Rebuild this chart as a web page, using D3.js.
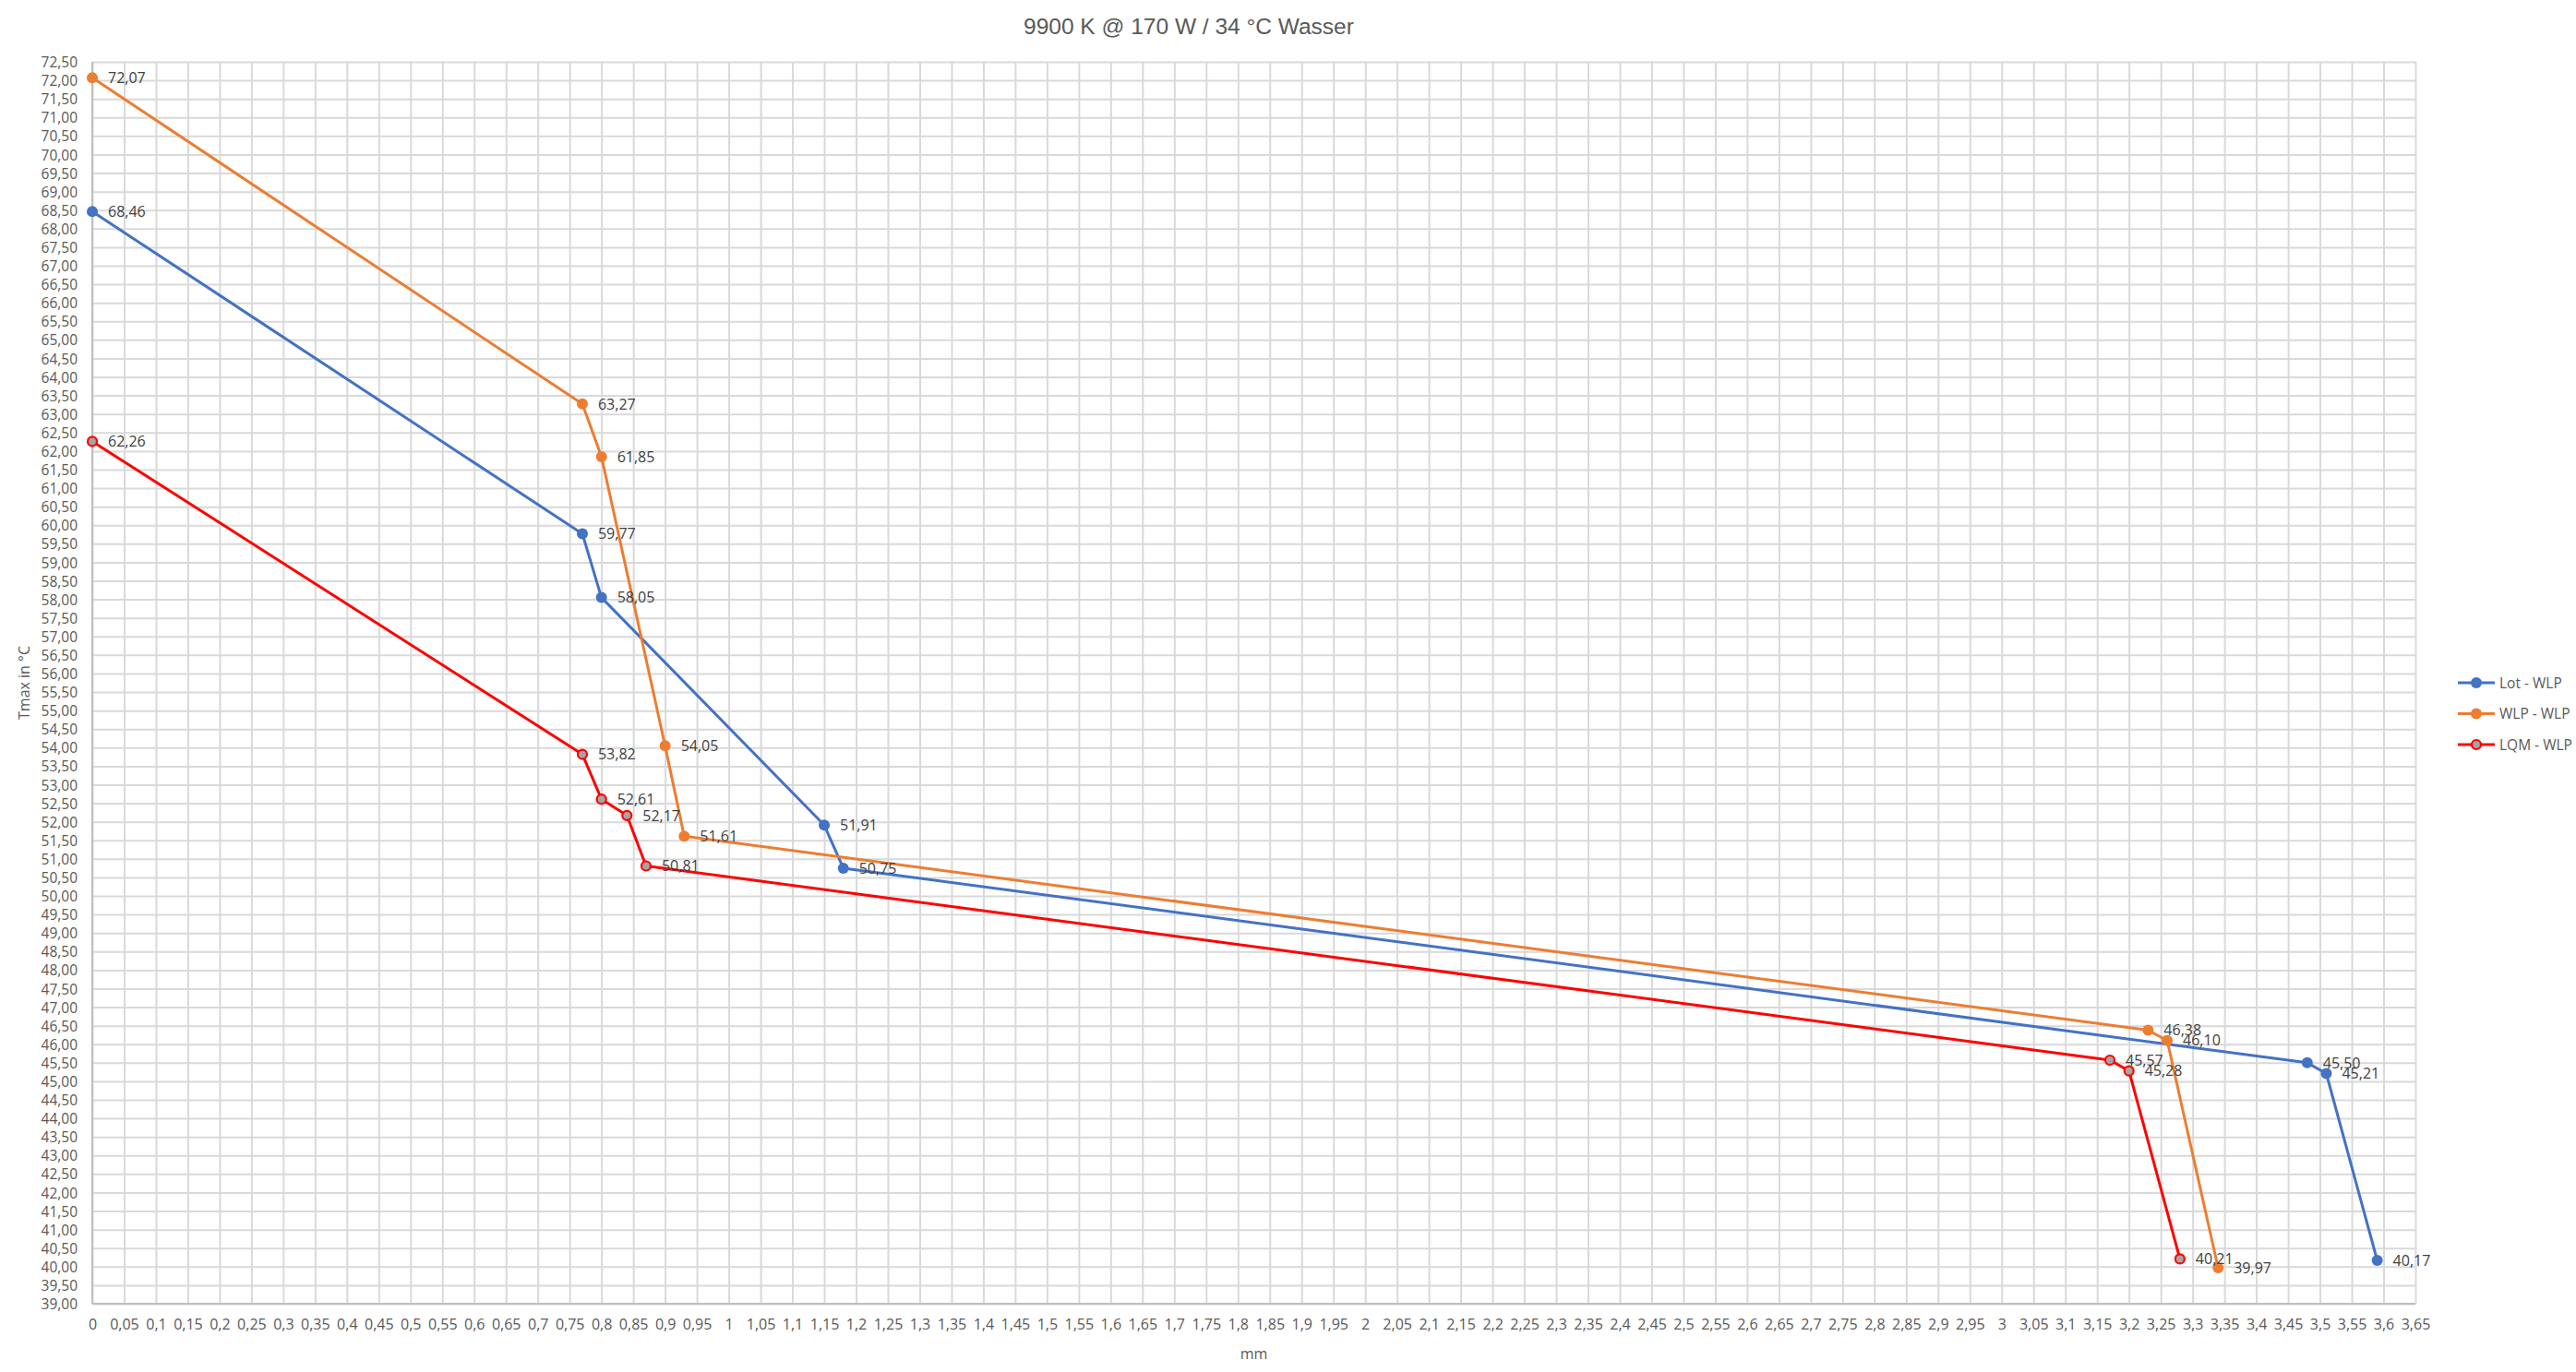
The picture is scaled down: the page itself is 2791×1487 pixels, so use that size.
<!DOCTYPE html>
<html>
<head>
<meta charset="utf-8">
<script src="https://cdnjs.cloudflare.com/ajax/libs/d3/7.8.5/d3.min.js"></script>
<style>
  body { margin: 0; background: #fff; }
  svg { display: block; }
  text { font-family: "Open Sans", "Noto Sans", sans-serif; }
</style>
</head>
<body>
<div id="chart"></div>
<script>

// data
var series_names = ["Lot - WLP", "WLP - WLP", "LQM - WLP"]
var lot_x = [0, 0.77, 0.80, 1.15, 1.18, 3.48, 3.51, 3.59]
var lot_y = [68.46, 59.77, 58.05, 51.91, 50.75, 45.50, 45.21, 40.17]
var wlp_x = [0, 0.77, 0.80, 0.90, 0.93, 3.23, 3.26, 3.34]
var wlp_y = [72.07, 63.27, 61.85, 54.05, 51.61, 46.38, 46.10, 39.97]
var lqm_x = [0, 0.77, 0.80, 0.84, 0.87, 3.17, 3.20, 3.28]
var lqm_y = [62.26, 53.82, 52.61, 52.17, 50.81, 45.57, 45.28, 40.21]

var x_min = 0, x_max = 3.65, x_step = 0.05
var y_min = 39, y_max = 72.5, y_step = 0.5

var title = "9900 K @ 170 W / 34 °C Wasser"
var x_title = "mm"
var y_title = "Tmax in °C"

var w = 2791
var h = 1487
// note: "top" is taken by window.top, so prefix everything
var p_left = 100, p_right = 2617, p_top = 67, p_bottom = 1413

var colors = ["#4472C4", "#ED7D31", "#FF0000"]

var comma = function(s) { return s.replace(".", ",") }
var fmt_x = function(v) { return comma(String(+v.toFixed(2))) }
var fmt_y = function(v) { return comma(v.toFixed(2)) }

var data = [
  {name: series_names[0], pts: lot_x.map(function(x, i){ return {x: x, y: lot_y[i]} })},
  {name: series_names[1], pts: wlp_x.map(function(x, i){ return {x: x, y: wlp_y[i]} })},
  {name: series_names[2], pts: lqm_x.map(function(x, i){ return {x: x, y: lqm_y[i]} })}
]

var x = d3.scaleLinear().domain([x_min, x_max]).range([p_left, p_right])
var y = d3.scaleLinear().domain([y_min, y_max]).range([p_bottom, p_top])

var x_ticks = d3.range(0, Math.round((x_max - x_min) / x_step) + 1).map(function(i){ return +(x_min + i * x_step).toFixed(2) })
var y_ticks = d3.range(0, Math.round((y_max - y_min) / y_step) + 1).map(function(i){ return y_min + i * y_step })

var svg = d3.select("#chart").append("svg")
  .attr("width", w)
  .attr("height", h)

svg.append("rect").attr("width", w).attr("height", h).attr("fill", "#fff")

// gridlines + tick labels
var gx = svg.append("g")
  .attr("transform", "translate(0," + p_bottom + ")")
  .call(d3.axisBottom(x).tickValues(x_ticks).tickFormat(fmt_x).tickSize(-(p_bottom - p_top)).tickPadding(17))
var gy = svg.append("g")
  .attr("transform", "translate(" + p_left + ",0)")
  .call(d3.axisLeft(y).tickValues(y_ticks).tickFormat(fmt_y).tickSize(-(p_right - p_left)).tickPadding(16))

;[gx, gy].forEach(function(g){
  g.select(".domain").remove()
  g.selectAll(".tick line").attr("stroke", "#D9D9D9").attr("stroke-width", 2)
  g.selectAll(".tick text")
    .attr("fill", "#595959")
    .style("font-family", "'Open Sans', sans-serif")
})
gx.selectAll(".tick text").style("font-size", "16px")
gy.selectAll(".tick text").style("font-size", "15.5px").attr("dy", "0.36em")

// axis lines
svg.append("line")
  .attr("x1", p_left).attr("x2", p_left).attr("y1", p_top).attr("y2", p_bottom)
  .attr("stroke", "#BFBFBF").attr("stroke-width", 2)
svg.append("line")
  .attr("x1", p_left).attr("x2", p_right).attr("y1", p_bottom).attr("y2", p_bottom)
  .attr("stroke", "#BFBFBF").attr("stroke-width", 2)

var line = d3.line().x(function(d){ return x(d.x) }).y(function(d){ return y(d.y) })

data.forEach(function(s, i){
  var g = svg.append("g").attr("class", "series")
  g.append("path")
    .datum(s.pts)
    .attr("d", line)
    .attr("fill", "none")
    .attr("stroke", colors[i])
    .attr("stroke-width", 3)
    .attr("stroke-linejoin", "round")
  g.selectAll("circle")
    .data(s.pts)
    .enter().append("circle")
    .attr("cx", function(d){ return x(d.x) })
    .attr("cy", function(d){ return y(d.y) })
    .attr("r", i == 2 ? 5 : 6)
    .attr("fill", i == 2 ? "#A5A5A5" : colors[i])
    .attr("stroke", colors[i])
    .attr("stroke-width", i == 2 ? 2.2 : 0)
})

// data labels, right of the point
data.forEach(function(s, i){
  svg.append("g").selectAll("text")
    .data(s.pts)
    .enter().append("text")
    .attr("x", function(d){ return x(d.x) + 17 })
    .attr("y", function(d){ return y(d.y) })
    .attr("dy", "0.36em")
    .attr("fill", "#404040")
    .style("font-size", "16px")
    .text(function(d){ return fmt_y(d.y) })
})

// title + axis titles
svg.append("text")
  .attr("x", 1288).attr("y", 37)
  .attr("text-anchor", "middle")
  .attr("fill", "#595959")
  .style("font-family", "'Liberation Sans', sans-serif")
  .style("font-size", "24.5px")
  .text(title)

svg.append("text")
  .attr("x", (p_left + p_right) / 2).attr("y", 1473)
  .attr("text-anchor", "middle")
  .attr("fill", "#595959")
  .style("font-size", "16px")
  .text(x_title)

svg.append("text")
  .attr("transform", "translate(32," + ((p_top + p_bottom) / 2) + ") rotate(-90)")
  .attr("text-anchor", "middle")
  .attr("fill", "#595959")
  .style("font-size", "16px")
  .text(y_title)

// legend
var legend = svg.append("g").selectAll("g")
  .data(data)
  .enter().append("g")
  .attr("transform", function(d, i){ return "translate(2663," + (740 + i * 33.5) + ")" })

legend.append("line")
  .attr("x1", 0).attr("x2", 40)
  .attr("stroke", function(d, i){ return colors[i] })
  .attr("stroke-width", 3)
legend.append("circle")
  .attr("cx", 20)
  .attr("r", function(d, i){ return i == 2 ? 5 : 6 })
  .attr("fill", function(d, i){ return i == 2 ? "#A5A5A5" : colors[i] })
  .attr("stroke", function(d, i){ return colors[i] })
  .attr("stroke-width", function(d, i){ return i == 2 ? 2.2 : 0 })
legend.append("text")
  .attr("x", 45)
  .attr("dy", "0.36em")
  .attr("fill", "#595959")
  .style("font-size", "15.5px")
  .text(function(d){ return d.name })

</script>
</body>
</html>
